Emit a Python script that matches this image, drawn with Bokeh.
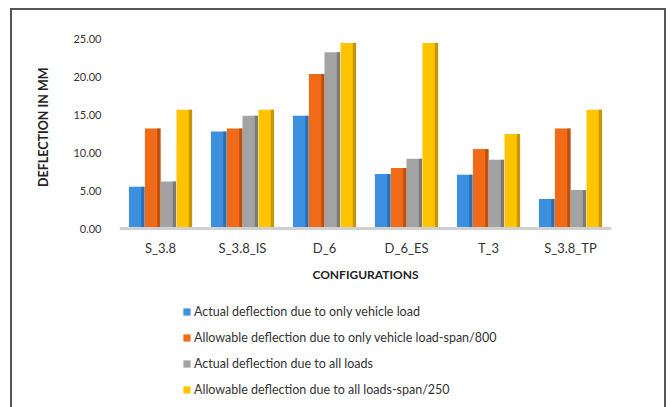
from bokeh.plotting import figure
from bokeh.models import (ColumnDataSource, FactorRange, Range1d, FixedTicker,
                          NumeralTickFormatter, Legend, LegendItem, Title)
from bokeh.transform import dodge
from bokeh.embed import file_html
from bokeh.resources import INLINE

categories = ["S_3.8", "S_3.8_IS", "D_6", "D_6_ES", "T_3", "S_3.8_TP"]
actual_vehicle = [5.5, 12.8, 14.9, 7.2, 7.1, 3.9]
allow_vehicle = [13.2, 13.2, 20.4, 8.0, 10.5, 13.2]
actual_all = [6.2, 14.9, 23.3, 9.2, 9.1, 5.1]
allow_all = [15.7, 15.7, 24.5, 24.5, 12.5, 15.7]
y_ticks = [0, 5, 10, 15, 20, 25]

series_names = [
    "Actual deflection due to only vehicle load",
    "Allowable deflection due to only vehicle load-span/800",
    "Actual deflection due to all loads",
    "Allowable deflection due to all loads-span/250",
]
series_keys = ["av", "alv", "aa", "ala"]
colors = ["#3D8FDF", "#F06A17", "#A3A3A3", "#FFC400"]
side_colors = ["#2A66A6", "#B04A0C", "#707070", "#B88A00"]
offsets = [-0.29, -0.095, 0.095, 0.29]

src = ColumnDataSource(dict(cat=categories, av=actual_vehicle, alv=allow_vehicle,
                            aa=actual_all, ala=allow_all))

FONT = "Lato"

# frame spans from y=35 to the bottom of the canvas; the value axis occupies the upper part
p = figure(width=672, height=407,
           x_range=FactorRange(*categories, range_padding=0),
           y_range=Range1d(-23.65, 25.5), output_backend="svg", toolbar_location=None,
           min_border_left=119, min_border_right=61, min_border_top=35,
           min_border_bottom=0)
p.outline_line_color = None
p.background_fill_color = "white"
p.border_fill_color = "white"
p.border_fill_alpha = 0
p.styles = {
    "background": ("linear-gradient(#555,#555) 10px 8px/656px 2px no-repeat, "
                   "linear-gradient(#555,#555) 10px 8px/2px 420px no-repeat, "
                   "linear-gradient(#555,#555) 664px 8px/2px 420px no-repeat, white")
}
p.xgrid.grid_line_color = None
p.ygrid.grid_line_color = None

items = []
bw = 0.19
for key, name, c, sc, off in zip(series_keys, series_names, colors, side_colors, offsets):
    r = p.vbar(x=dodge("cat", off, range=p.x_range), top=key, width=bw, source=src,
               fill_color=c, line_color=None)
    p.vbar(x=dodge("cat", off + bw / 2 - 0.02, range=p.x_range), top=key, width=0.04,
           source=src, fill_color=sc, line_color=None, fill_alpha=0.8)
    items.append(LegendItem(label=name, renderers=[r]))

# value axis
p.yaxis.ticker = FixedTicker(ticks=y_ticks)
p.yaxis.formatter = NumeralTickFormatter(format="0.00")
p.yaxis.axis_line_color = None
p.yaxis.major_tick_line_color = None
p.yaxis.minor_tick_line_color = None
p.yaxis.major_label_standoff = 12
p.yaxis.major_label_text_font = FONT
p.yaxis.major_label_text_font_size = "11px"
p.yaxis.major_label_text_color = "#333333"

ytitle = Title(text="DEFLECTION IN MM", align="right", offset=32, standoff=40,
               text_font=FONT, text_font_size="12.5px", text_font_style="bold",
               text_color="#222222")
p.add_layout(ytitle, "left")

# category axis, pinned at zero
p.xaxis.fixed_location = 0
p.xaxis.axis_line_color = "#D0D0D0"
p.xaxis.axis_line_width = 3
p.xaxis.major_tick_line_color = None
p.xaxis.minor_tick_line_color = None
p.xaxis.major_label_standoff = 5
p.xaxis.major_label_text_font = FONT
p.xaxis.major_label_text_font_size = "13px"
p.xaxis.major_label_text_color = "#333333"
p.xaxis.axis_label = "CONFIGURATIONS"
p.xaxis.axis_label_text_font = FONT
p.xaxis.axis_label_text_font_size = "12px"
p.xaxis.axis_label_text_font_style = "bold"
p.xaxis.axis_label_text_color = "#222222"
p.xaxis.axis_label_standoff = 8

legend = Legend(items=items, location=(63, 10), orientation="vertical",
                label_text_font=FONT, label_text_font_size="12.5px",
                label_text_color="#333333", glyph_width=9, glyph_height=9,
                label_height=14, spacing=11, padding=0, margin=0,
                label_standoff=3, border_line_color=None, background_fill_alpha=0)
p.add_layout(legend, "center")

open("out.html", "w").write(file_html(p, INLINE))
